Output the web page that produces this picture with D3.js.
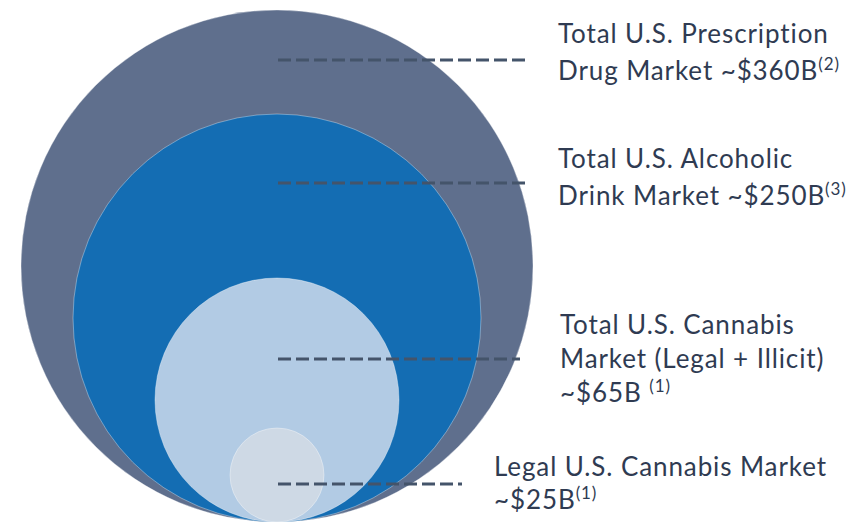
<!DOCTYPE html>
<meta charset="utf-8">
<style>
    body { margin: 0; background: #fff; }
    .label { font-family: Lato, "Open Sans", sans-serif; fill: #2f3b52; letter-spacing: 0.9px; }
    .leader { stroke: #44546a; stroke-width: 3px; stroke-dasharray: 13 5; fill: none; }
</style>

<svg width="858" height="522"></svg>
<script src="https://d3js.org/d3.v7.min.js"></script>
<script>

    // market sizes, $B
    var markets = ["Prescription", "Alcohol", "Cannabis total", "Cannabis legal"];
    var values = [360, 250, 65, 25];
    var footnotes = ["(2)", "(3)", "(1)", "(1)"];
    var labelLines = [
        ["Total U.S. Prescription", "Drug Market ~$360B"],
        ["Total U.S. Alcoholic", "Drink Market ~$250B"],
        ["Total U.S. Cannabis", "Market (Legal + Illicit)", "~$65B "],
        ["Legal U.S. Cannabis Market", "~$25B"]
    ];

    var colors = ["#5f6f8d", "#146db3", "#b2cbe4", "#ced9e5"];

    var svg = d3.select("svg");
    var cx = 277, baseY = 522;

    // circle sizes in the picture are not strictly area-based
    var rScale = d3.scaleLinear()
        .domain([25, 65, 250, 360])
        .range([47, 122, 204, 256]);

    // leader line y, leader line end x, label x, first baseline, line step
    var layout = [
        { ly: 60, lx2: 527, tx: 558, ty: 43, step: 37 },
        { ly: 183, lx2: 525, tx: 558, ty: 168, step: 37 },
        { ly: 359, lx2: 520, tx: 560, ty: 334, step: 34 },
        { ly: 484, lx2: 462, tx: 494, ty: 476, step: 33 }
    ];

    svg.append("g")
        .selectAll("circle")
        .data(values)
        .enter().append("circle")
        .attr("cx", cx)
        .attr("cy", function (d) { return baseY - rScale(d); })
        .attr("r", function (d) { return rScale(d); })
        .attr("fill", function (d, i) { return colors[i]; })
        .attr("stroke", "rgba(255,255,255,0.45)")
        .attr("stroke-width", 0.8);

    svg.append("g")
        .selectAll("line")
        .data(markets)
        .enter().append("line")
        .attr("class", "leader")
        .attr("x1", 278)
        .attr("x2", function (d, i) { return layout[i].lx2; })
        .attr("y1", function (d, i) { return layout[i].ly; })
        .attr("y2", function (d, i) { return layout[i].ly; });

    var labels = svg.append("g")
        .selectAll("text")
        .data(markets)
        .enter().append("text")
        .attr("class", "label")
        .attr("font-size", 26);

    labels.each(function (d, i) {
        var t = d3.select(this);
        var lines = labelLines[i];
        lines.forEach(function (line, j) {
            t.append("tspan")
                .attr("x", layout[i].tx)
                .attr("y", layout[i].ty + j * layout[i].step)
                .text(line);
        });
        t.append("tspan")
            .attr("font-size", 17)
            .attr("dy", -10)
            .text(footnotes[i]);
    });

</script>
